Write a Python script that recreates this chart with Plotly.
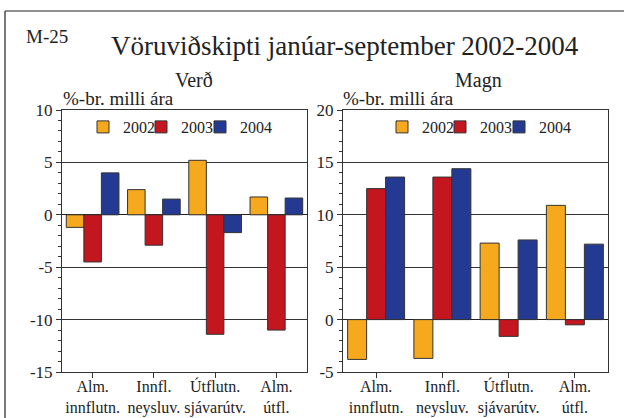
import plotly.graph_objects as go

categories = ["Alm.<br>innflutn.", "Innfl.<br>neysluv.", "Útflutn.<br>sjávarútv.", "Alm.<br>útfl."]
years = ["2002", "2003", "2004"]
colors = ["#F7A91E", "#C3161F", "#243A92"]

verd_2002 = [-1.2, 2.4, 5.2, 1.7]
verd_2003 = [-4.5, -2.9, -11.4, -11.0]
verd_2004 = [4.0, 1.5, -1.7, 1.6]

magn_2002 = [-3.8, -3.7, 7.3, 10.9]
magn_2003 = [12.5, 13.6, -1.6, -0.5]
magn_2004 = [13.6, 14.4, 7.6, 7.2]

verd_ticks = [-15, -10, -5, 0, 5, 10]
verd_ticklabels = ["-15", "-10", "-5", "0", "5", "10"]
magn_ticks = [-5, 0, 5, 10, 15, 20]
magn_ticklabels = ["-5", "0", "5", "10", "15", "20"]

W, H = 624, 418
FONT = "Liberation Serif"

def px(x):
    return x / W

def py(y):
    return 1 - y / H

fig = go.Figure()

legend_x_left = [83, 141, 200]
legend_x_right = [382, 440, 499]

n = 0
for yr, col, vals in zip(years, colors, [verd_2002, verd_2003, verd_2004]):
    n += 1
    fig.add_trace(go.Bar(x=categories, y=vals, name=yr, marker=dict(color=col, line=dict(color="#333333", width=1)),
                         xaxis="x", yaxis="y", legend="legend" if n == 1 else f"legend{n}"))
for yr, col, vals in zip(years, colors, [magn_2002, magn_2003, magn_2004]):
    n += 1
    fig.add_trace(go.Bar(x=categories, y=vals, name=yr, marker=dict(color=col, line=dict(color="#333333", width=1)),
                         xaxis="x2", yaxis="y2", legend=f"legend{n}"))

axis_common = dict(showline=True, linecolor="#333333", linewidth=1, mirror=True, automargin=False,
                   tickfont=dict(family=FONT, size=17, color="#222"))
xaxis_common = dict(showline=True, linecolor="#333333", linewidth=1, mirror=True, automargin=False,
                    tickfont=dict(family=FONT, size=16, color="#222"), ticks="outside", ticklen=5,
                    tickcolor="#333", tickangle=0, showgrid=False, ticklabelstandoff=-5)

layout = dict(
    width=W, height=H,
    margin=dict(l=0, r=0, t=0, b=0, autoexpand=False),
    paper_bgcolor="white", plot_bgcolor="white",
    barmode="group", bargap=0.14, bargroupgap=0,
    font=dict(family=FONT, color="#222"),
    xaxis=dict(domain=[px(62), px(307)], anchor="y", **xaxis_common),
    yaxis=dict(domain=[py(372), py(110)], anchor="x", range=[-15, 10], tickmode="array",
               tickvals=verd_ticks, ticktext=verd_ticklabels, ticks="outside", ticklen=5,
               tickcolor="#333", showgrid=True, gridcolor="#333333", gridwidth=1, zeroline=True,
               zerolinecolor="#222", zerolinewidth=1,
               minor=dict(dtick=1, ticks="outside", ticklen=3, tickcolor="#333", showgrid=False),
               **axis_common),
    xaxis2=dict(domain=[px(343), px(608)], anchor="y2", **xaxis_common),
    yaxis2=dict(domain=[py(372), py(110)], anchor="x2", range=[-5, 20], tickmode="array",
                tickvals=magn_ticks, ticktext=magn_ticklabels, ticks="outside", ticklen=5,
                tickcolor="#333", showgrid=True, gridcolor="#333333", gridwidth=1, zeroline=True,
                zerolinecolor="#222", zerolinewidth=1,
                minor=dict(dtick=1, ticks="outside", ticklen=3, tickcolor="#333", showgrid=False),
                **axis_common),
    showlegend=True,
)
for i, lx in enumerate(legend_x_left + legend_x_right, start=1):
    key = "legend" if i == 1 else f"legend{i}"
    layout[key] = dict(orientation="h", x=px(lx), y=py(110), xanchor="left", yanchor="top",
                       font=dict(family=FONT, size=16, color="#222"), itemwidth=30,
                       bgcolor="rgba(0,0,0,0)")
fig.update_layout(**layout)

annots = [
    dict(text="M-25", x=px(24), y=py(37), size=19),
    dict(text="Vöruviðskipti janúar-september 2002-2004", x=px(345), y=py(46), size=27, xanchor="center"),
    dict(text="Verð", x=px(194), y=py(80), size=20, xanchor="center"),
    dict(text="Magn", x=px(478), y=py(80), size=20, xanchor="center"),
    dict(text="%-br. milli ára", x=px(61), y=py(98), size=19),
    dict(text="%-br. milli ára", x=px(341), y=py(98), size=19),
]
for a in annots:
    fig.add_annotation(text=a["text"], x=a["x"], y=a["y"], xref="paper", yref="paper",
                       xanchor=a.get("xanchor", "left"), yanchor="middle", showarrow=False,
                       font=dict(family=FONT, size=a["size"], color="#222"))

fig.add_shape(type="line", xref="paper", yref="paper", x0=px(5), x1=px(5), y0=py(11), y1=-0.05,
              line=dict(color="#222", width=1.2))
fig.add_shape(type="line", xref="paper", yref="paper", x0=px(5), x1=1.05, y0=py(11), y1=py(11),
              line=dict(color="#222", width=1.2))

fig.write_html("out.html", config={"displayModeBar": False},
               post_script="document.body.style.margin='0';document.body.style.padding='0';")
